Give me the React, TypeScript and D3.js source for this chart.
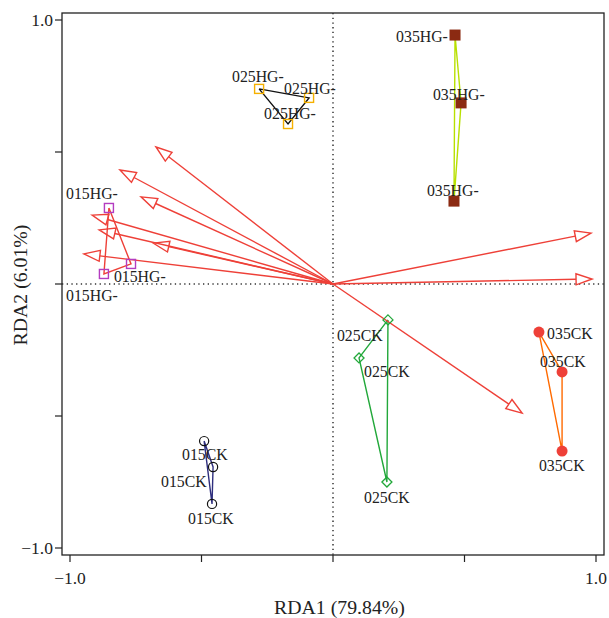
import React from "react";
import * as d3 from "d3";

// ---- data (RDA biplot) ----
const xTicks = [-1, -0.5, 0, 0.5, 1];
const yTicks = [-1, -0.5, 0, 0.5, 1];
const tickLabels = ["−1.0", "", "", "", "1.0"];
const xTitle = "RDA1 (79.84%)";
const yTitle = "RDA2 (6.01%)";

// environmental arrows (tip coordinates)
const arrowX = [0.981, 0.985, 0.719, -0.673, -0.81, -0.73, -0.916, -0.889, -0.684, -0.947];
const arrowY = [0.193, 0.019, -0.489, 0.519, 0.432, 0.33, 0.261, 0.205, 0.155, 0.114];

// sample groups
const groupNames = ["025HG-", "035HG-", "015HG-", "025CK", "035CK", "015CK"];
const groupX = [
  [-0.281, -0.091, -0.171],
  [0.464, 0.487, 0.46],
  [-0.852, -0.768, -0.871],
  [0.209, 0.099, 0.205],
  [0.783, 0.871, 0.871],
  [-0.49, -0.456, -0.46],
];
const groupY = [
  [0.739, 0.705, 0.606],
  [0.943, 0.686, 0.314],
  [0.288, 0.076, 0.038],
  [-0.136, -0.28, -0.75],
  [-0.182, -0.333, -0.633],
  [-0.595, -0.693, -0.833],
];
// label anchors (left edge, baseline) in data units
const labelX = [
  [-0.384, -0.186, -0.262],
  [0.24, 0.38, 0.357],
  [-1.015, -0.833, -1.015],
  [0.015, 0.118, 0.118],
  [0.814, 0.787, 0.783],
  [-0.574, -0.654, -0.551],
];
const labelY = [
  [0.765, 0.72, 0.625],
  [0.917, 0.697, 0.333],
  [0.322, 0.008, -0.064],
  [-0.216, -0.352, -0.83],
  [-0.208, -0.314, -0.708],
  [-0.667, -0.769, -0.909],
];

// ---- styles ----
const W = 609;
const H = 618;
const FONT = "'Liberation Serif', 'DejaVu Serif', serif";
const ARROW = "#ee4038";
const shapes = ["square", "square", "square", "diamond", "circle", "circle"];
const markerStroke = ["#f5b000", "#8b2a12", "#b43cc0", "#22a83a", "#ee4038", "#111111"];
const markerFill = ["none", "#8b2a12", "none", "none", "#ee4038", "none"];
const lineColor = ["#111111", "#b8e000", "#ee4038", "#22a83a", "#ff6a00", "#2e2e7e"];

export default function App() {
  const x = d3.scaleLinear().domain([-1, 1]).range([70, 596]);
  const y = d3.scaleLinear().domain([-1, 1]).range([548, 20]);
  const left = 62, right = 604, top = 13, bottom = 555;

  const headLen = 16, headHalf = 5.5;

  const marker = (shape: string, cx: number, cy: number, g: number, key: string) => {
    if (shape === "square") {
      const s = g === 1 ? 11 : 9;
      return (
        <rect key={key} x={cx - s / 2} y={cy - s / 2} width={s} height={s}
          fill={markerFill[g]} stroke={markerStroke[g]} strokeWidth={g === 1 ? 0 : 1.4} />
      );
    }
    if (shape === "diamond") {
      const r = 5;
      return (
        <path key={key} d={`M${cx},${cy - r}L${cx + r},${cy}L${cx},${cy + r}L${cx - r},${cy}Z`}
          fill="none" stroke={markerStroke[g]} strokeWidth={1.3} />
      );
    }
    return (
      <circle key={key} cx={cx} cy={cy} r={g === 4 ? 5.5 : 4.6}
        fill={markerFill[g]} stroke={markerStroke[g]} strokeWidth={g === 4 ? 0 : 1.2} />
    );
  };

  return (
    <svg width={W} height={H} style={{ position: "absolute", left: 0, top: 0, background: "#fff" }}
      fontFamily={FONT}>
      {/* frame */}
      <rect x={left} y={top} width={right - left} height={bottom - top} fill="none" stroke="#222" strokeWidth={1.3} />
      {/* zero dotted lines */}
      <line x1={x(0)} x2={x(0)} y1={top} y2={bottom} stroke="#333" strokeWidth={1.5} strokeDasharray="1.3,3.4" />
      <line x1={left} x2={right} y1={y(0)} y2={y(0)} stroke="#333" strokeWidth={1.5} strokeDasharray="1.3,3.4" />

      {/* ticks */}
      {yTicks.map((t, i) => (
        <g key={"yt" + i}>
          <line x1={left - 7} x2={left} y1={y(t)} y2={y(t)} stroke="#222" strokeWidth={1.2} />
          {tickLabels[i] && (
            <text x={left - 9} y={y(t)} dy="0.35em" textAnchor="end" fontSize={17.5} fill="#222">{tickLabels[i]}</text>
          )}
        </g>
      ))}
      {xTicks.map((t, i) => (
        <g key={"xt" + i}>
          <line x1={x(t)} x2={x(t)} y1={bottom} y2={bottom + 7} stroke="#222" strokeWidth={1.2} />
          {tickLabels[i] && (
            <text x={x(t)} y={584} textAnchor="middle" fontSize={17.5} fill="#222">{tickLabels[i]}</text>
          )}
        </g>
      ))}
      <text x={339.5} y={614} textAnchor="middle" fontSize={19.8} fill="#222">{xTitle}</text>
      <text transform={`translate(27,285) rotate(-90)`} textAnchor="middle" fontSize={19.8} fill="#222">{yTitle}</text>

      {/* group polygons */}
      {groupX.map((xs, g) => {
        const pts = xs.map((v, j) => [x(v), y(groupY[g][j])] as [number, number]);
        const d = d3.line()(pts.concat([pts[0]])) as string;
        return <path key={"poly" + g} d={d} fill="none" stroke={lineColor[g]} strokeWidth={1.4} />;
      })}

      {/* arrows */}
      {arrowX.map((ax, i) => {
        const x0 = x(0), y0 = y(0);
        const x1 = x(ax), y1 = y(arrowY[i]);
        const L = Math.hypot(x1 - x0, y1 - y0);
        const ux = (x1 - x0) / L, uy = (y1 - y0) / L;
        const bx = x1 - ux * headLen, by = y1 - uy * headLen;
        const px = -uy, py = ux;
        const head = `M${x1},${y1}L${bx + px * headHalf},${by + py * headHalf}L${bx - px * headHalf},${by - py * headHalf}Z`;
        return (
          <g key={"ar" + i}>
            <line x1={x0} y1={y0} x2={bx} y2={by} stroke={ARROW} strokeWidth={1.4} />
            <path d={head} fill="none" stroke={ARROW} strokeWidth={1.4} strokeLinejoin="miter" />
          </g>
        );
      })}

      {/* markers */}
      {groupX.map((xs, g) => xs.map((v, j) => marker(shapes[g], x(v), y(groupY[g][j]), g, `m${g}-${j}`)))}

      {/* labels */}
      {groupX.map((xs, g) => xs.map((_, j) => (
        <text key={`l${g}-${j}`} x={x(labelX[g][j])} y={y(labelY[g][j])} fontSize={15.8} fill="#222">
          {groupNames[g]}
        </text>
      )))}
    </svg>
  );
}
